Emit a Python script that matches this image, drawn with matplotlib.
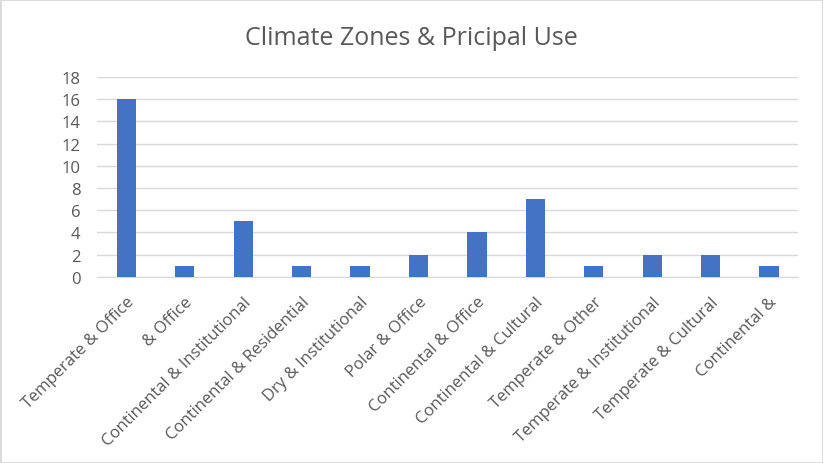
import matplotlib
matplotlib.use("Agg")
import matplotlib.pyplot as plt
from matplotlib.patches import Rectangle

categories = [
    "Temperate & Office",
    "& Office",
    "Continental & Institutional",
    "Continental & Residential",
    "Dry & Institutional",
    "Polar & Office",
    "Continental & Office",
    "Continental & Cultural",
    "Temperate & Other",
    "Temperate & Institutional",
    "Temperate & Cultural",
    "Continental &",
]
counts = [16, 1, 5, 1, 1, 2, 4, 7, 1, 2, 2, 1]
yticks = [0, 2, 4, 6, 8, 10, 12, 14, 16, 18]

plt.rcParams["font.family"] = ["Open Sans", "DejaVu Sans"]
text_color = "#595959"

fig = plt.figure(figsize=(8.23, 4.64), dpi=100)
# thin gray frame round the whole chart, like the Excel chart area
fig.patches.append(Rectangle((0, 0), 1, 1, transform=fig.transFigure,
                             fill=False, edgecolor="#d9d9d9", linewidth=2))
ax = fig.add_axes([0.118, 0.401, 0.852, 0.431])

x = list(range(len(categories)))
ax.bar(x, counts, width=0.33, color="#4472C4", zorder=3)

ax.set_xlim(-0.5, len(categories) - 0.5)
ax.set_ylim(0, 18)
ax.set_yticks(yticks)
ax.set_yticklabels([str(v) for v in yticks], fontsize=12, color=text_color)
ax.set_xticks(x)
ax.set_xticklabels(categories, rotation=45, ha="right", rotation_mode="anchor",
                   fontsize=12, color=text_color)
ax.tick_params(axis="y", length=0, pad=12)
ax.tick_params(axis="x", length=0, pad=12)

ax.grid(axis="y", color="#d9d9d9", linewidth=1, zorder=0)
for side in ["top", "right", "left"]:
    ax.spines[side].set_visible(False)
ax.spines["bottom"].set_color("#d9d9d9")

fig.text(0.5, 0.918, "Climate Zones & Pricipal Use", ha="center", va="center",
         fontsize=18, color=text_color)

fig.savefig("out.png", dpi=100)
